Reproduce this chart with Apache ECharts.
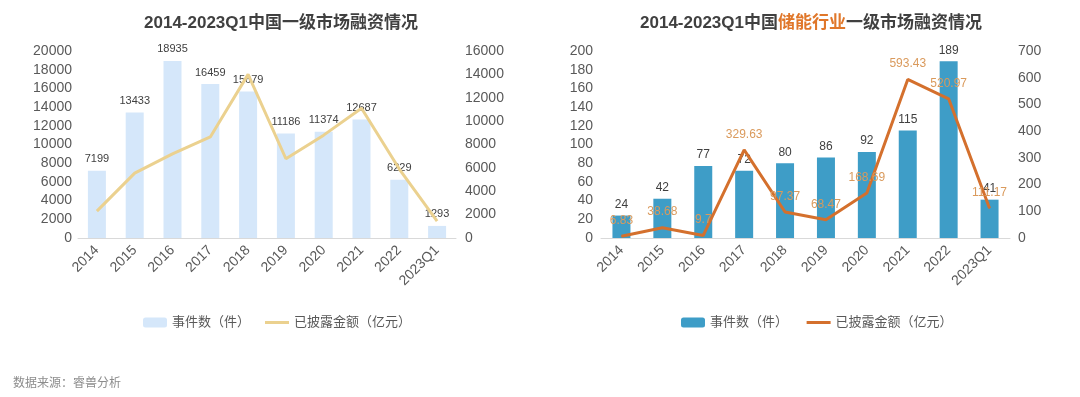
<!DOCTYPE html>
<html>
<head>
<meta charset="utf-8">
<script src="https://cdn.jsdelivr.net/npm/echarts@6/dist/echarts.min.js"></script>
<style>
html,body{margin:0;padding:0;background:#fff;}
#c{width:1080px;height:397px;}
</style>
</head>
<body>
<div id="c"></div>
<script>
var categories = ['2014','2015','2016','2017','2018','2019','2020','2021','2022','2023Q1'];
var marketEvents = [7199,13433,18935,16459,15679,11186,11374,12687,6229,1293];
var marketAmount = [2300,5550,7200,8650,14000,6780,8800,11100,5900,1450];
var storageEvents = [24,42,77,72,80,86,92,115,189,41];
var storageAmount = [6.83,38.68,9.7,329.63,97.37,68.47,168.69,593.43,520.97,111.17];
var leftAxisTicks = {min:0,max:20000,interval:2000};
var leftAxis2Ticks = {min:0,max:16000,interval:2000};
var rightAxisTicks = {min:0,max:200,interval:20};
var rightAxis2Ticks = {min:0,max:700,interval:100};

var FONT = '"Liberation Sans","Noto Sans CJK SC",sans-serif';
var AX = '#595959';
var LINE_ICON = 'path://M0,0 L24,0 L24,3 L0,3 Z';

function yAx(grid, t, pos, margin){
  return {type:'value', gridIndex:grid, position:pos, min:t.min, max:t.max, interval:t.interval,
    axisLine:{show:false}, axisTick:{show:false}, splitLine:{show:false},
    axisLabel:{color:AX, fontSize:14, fontFamily:FONT, margin:margin,
      formatter:function(v){return String(v);}}};
}
function xAx(grid){
  return {type:'category', gridIndex:grid, data:categories,
    axisLine:{show:true, lineStyle:{color:'#d9d9d9', width:1}}, axisTick:{show:false},
    axisLabel:{color:AX, fontSize:14, fontFamily:FONT, rotate:45, margin:10, interval:0}};
}

var chart = echarts.init(document.getElementById('c'));
chart.setOption({
  animation:false,
  textStyle:{fontFamily:FONT},
  title:[
    {text:'2014-2023Q1中国一级市场融资情况', left:276, top:10, textAlign:'center',
     textStyle:{fontSize:17, fontWeight:'bold', color:'#404040', fontFamily:FONT}},
    {text:'{a|2014-2023Q1中国}{b|储能行业}{a|一级市场融资情况}', left:806, top:10, textAlign:'center',
     textStyle:{rich:{
       a:{fontSize:17, fontWeight:'bold', color:'#404040', fontFamily:FONT},
       b:{fontSize:17, fontWeight:'bold', color:'#E0772A', fontFamily:FONT}}}}
  ],
  legend:[
    {left:138, top:311, itemWidth:24, itemHeight:10, itemGap:15,
     textStyle:{color:AX, fontSize:13, fontFamily:FONT},
     data:['事件数（件）',{name:'已披露金额（亿元）', icon:LINE_ICON}]},
    {left:676, top:311, itemWidth:24, itemHeight:10, itemGap:15,
     textStyle:{color:AX, fontSize:13, fontFamily:FONT},
     data:['事件数（件） ',{name:'已披露金额（亿元） ', icon:LINE_ICON}]}
  ],
  grid:[
    {left:78, right:624, top:51, bottom:159},
    {left:601, right:70, top:51, bottom:159}
  ],
  xAxis:[xAx(0), xAx(1)],
  yAxis:[yAx(0,leftAxisTicks,'left',6), yAx(0,leftAxis2Ticks,'right',9),
         yAx(1,rightAxisTicks,'left',8), yAx(1,rightAxis2Ticks,'right',8)],
  series:[
    {name:'事件数（件）', type:'bar', xAxisIndex:0, yAxisIndex:0, data:marketEvents, barWidth:18,
     itemStyle:{color:'#D5E7FA'},
     label:{show:true, position:'top', color:'#404040', fontSize:11, fontFamily:FONT, distance:6}},
    {name:'已披露金额（亿元）', type:'line', xAxisIndex:0, yAxisIndex:1, data:marketAmount,
     symbol:'none', lineStyle:{color:'#EBD18F', width:3}, itemStyle:{color:'#EBD18F'}, z:3},
    {name:'事件数（件） ', type:'bar', xAxisIndex:1, yAxisIndex:2, data:storageEvents, barWidth:18,
     itemStyle:{color:'#3E9DC7'},
     label:{show:true, position:'top', color:'#404040', fontSize:12, fontFamily:FONT, distance:5}},
    {name:'已披露金额（亿元） ', type:'line', xAxisIndex:1, yAxisIndex:3, data:storageAmount,
     symbol:'circle', symbolSize:1, showSymbol:true,
     lineStyle:{color:'#D4702D', width:3}, itemStyle:{color:'#D4702D'}, z:3,
     label:{show:true, position:'top', color:'#DA9A5C', fontSize:12, fontFamily:FONT, distance:9}}
  ],
  graphic:[
    {type:'text', left:13, top:378, style:{text:'数据来源：睿兽分析', fill:'#8c8c8c', fontSize:12, fontFamily:FONT}}
  ]
});
</script>
</body>
</html>
